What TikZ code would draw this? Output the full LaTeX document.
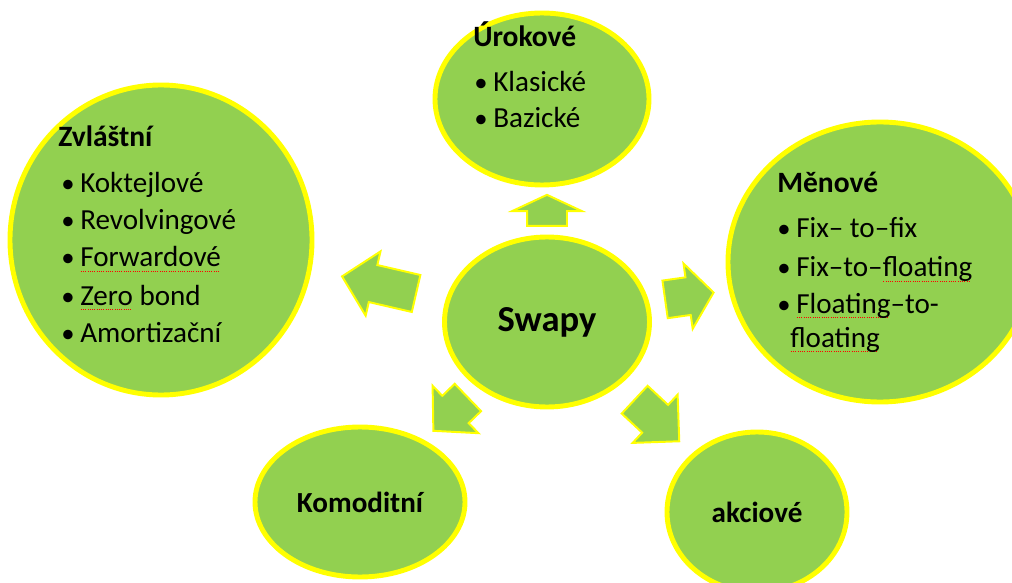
\documentclass[tikz,border=0pt]{standalone}
\usepackage{fontspec}
\setmainfont{Carlito}
\usepackage{tikz}
\usetikzlibrary{shapes.geometric,shapes.arrows}

\definecolor{swapgreen}{HTML}{92D050}
\definecolor{swapyellow}{HTML}{FFFF00}
\newlength\px
\setlength\px{0.025cm}
\newcommand\spellmark[1]{\setbox0\hbox{#1}\rlap{\raisebox{-3pt}{\hbox to \wd0{\color{red}%
    \leaders\hbox to 1.6pt{\hss\rule{0.8pt}{0.5pt}\hss}\hfill}}}\box0{}}
\newcommand\bul{\makebox[19\px][l]{\fontsize{19}{20}\selectfont •}}

\tikzset{
    bubble/.style={ellipse, draw=swapyellow, line width=3.5pt, fill=swapgreen, inner sep=0pt},
    blockarrow/.style={single arrow, draw=swapyellow, line width=1.4pt, fill=swapgreen,
        inner xsep=0pt, inner ysep=18\px, single arrow head extend=14\px},
    item/.style={anchor=base west, inner sep=0pt, font=\fontsize{20.7}{24}\selectfont},
    itemhead/.style={item, font=\fontsize{21}{24}\selectfont\bfseries},
    centretext/.style={inner sep=0pt, font=\fontsize{20.7}{24}\selectfont\bfseries}
}

\begin{document}
\begin{tikzpicture}[x=0.025cm, y=-0.025cm]
        \useasboundingbox (0,0) rectangle (1012,583);
        \clip (0,0) rectangle (1012,583);

        % The bubbles
        \node[bubble, minimum width=302\px, minimum height=310\px] (zvlastni) at (161,240) {};
        \node[bubble, minimum width=214\px, minimum height=172\px] (urokove) at (542,99) {};
        \node[bubble, minimum width=304\px, minimum height=280\px] (menove) at (880,262) {};
        \node[bubble, minimum width=205\px, minimum height=170\px] (swapy) at (547,322) {};
        \node[bubble, minimum width=210\px, minimum height=150\px] (komoditni) at (360,502) {};
        \node[bubble, minimum width=180\px, minimum height=160\px] (akciove) at (757,512) {};

        % The block arrows
        \node[blockarrow, rotate=90, minimum height=31\px, inner ysep=19\px,
            single arrow head extend=15\px, single arrow tip angle=130] (toUrok) at (547,215) {};
        \node[blockarrow, rotate=167, minimum height=76\px,
            single arrow tip angle=92] (toZvl) at (388,287) {};
        \node[blockarrow, rotate=8, minimum height=49\px,
            single arrow tip angle=104] (toMen) at (682,297) {};
        \node[blockarrow, rotate=224, minimum height=48\px,
            single arrow tip angle=94] (toKom) at (457,408) {};
        \node[blockarrow, rotate=-43, minimum height=61\px,
            single arrow tip angle=90] (toAkc) at (650,414) {};

        % Centre word
        \node[centretext, font=\fontsize{26}{30}\selectfont\bfseries] (swapyText) at (swapy) {Swapy};

        % Zvlastni list
        \node[itemhead] (zvlHead) at (58,147) {Zvláštní};
        \node[item] (zvlA) at (61,193) {\bul Koktejlové};
        \node[item] (zvlB) at (61,230) {\bul Revolvingové};
        \node[item] (zvlC) at (61,267) {\bul\spellmark{Forwardové}};
        \node[item] (zvlD) at (61,305) {\bul\spellmark{Zero} bond};
        \node[item] (zvlE) at (61,343) {\bul Amortizační};

        % Urokove list
        \node[itemhead] (urokHead) at (473,47) {Úrokové};
        \node[item] (urokA) at (474,92) {\bul Klasické};
        \node[item] (urokB) at (474,128) {\bul Bazické};

        % Menove list
        \node[itemhead] (menHead) at (777,193) {Měnové};
        \node[item] (menA) at (777,238) {\bul Fix– to–fix};
        \node[item] (menB) at (777,277) {\bul Fix–to–\spellmark{floating}};
        \node[item] (menC) at (777,313) {\bul\spellmark{Floating}–to-};
        \node[item] (menD) at (790,347) {\spellmark{floating}};

        % Bottom words
        \node[centretext] (komText) at (komoditni) {Komoditní};
        \node[centretext] (akcText) at (akciove) {akciové};

    \end{tikzpicture}
\end{document}
